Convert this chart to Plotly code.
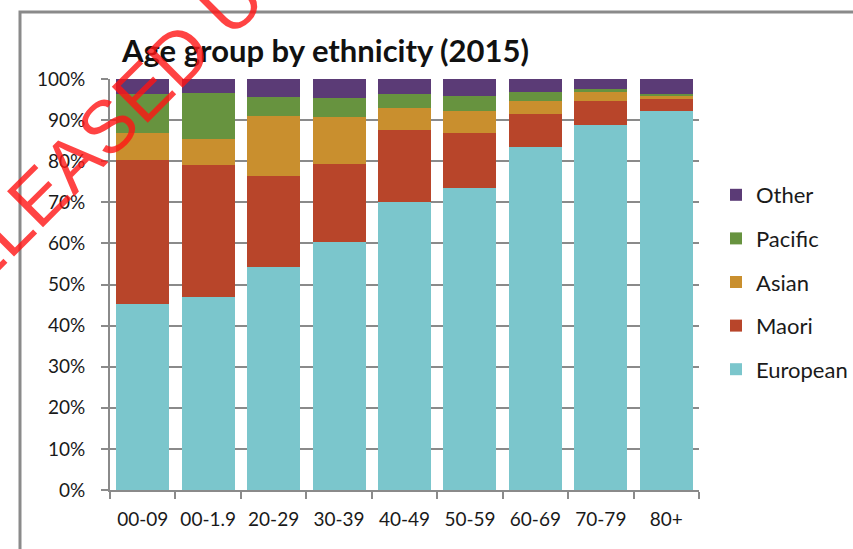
import plotly.graph_objects as go

categories = ["00-09", "00-1.9", "20-29", "30-39", "40-49", "50-59", "60-69", "70-79", "80+"]
european = [45.3, 47.0, 54.3, 60.4, 70.1, 73.6, 83.4, 88.9, 92.3]
maori = [35.0, 32.1, 22.1, 18.9, 17.5, 13.2, 8.0, 5.7, 2.8]
asian = [6.5, 6.3, 14.6, 11.4, 5.4, 5.5, 3.2, 2.2, 1.0]
pacific = [9.6, 11.3, 4.7, 4.8, 3.4, 3.6, 2.2, 0.7, 0.2]
other = [3.6, 3.3, 4.3, 4.5, 3.6, 4.1, 3.2, 2.5, 3.7]
y_ticks = list(range(0, 101, 10))
y_tick_labels = [f"{v}%" for v in y_ticks]

series = [
    ("European", european, "#7BC6CC"),
    ("Maori", maori, "#B8452A"),
    ("Asian", asian, "#C98F2E"),
    ("Pacific", pacific, "#67933F"),
    ("Other", other, "#5B3B76"),
]

W, H = 853, 549
L, R, T, B = 110, 154, 79, 59
pw, ph = W - L - R, H - T - B


def px(x):
    return (x - L) / pw


def py(y):
    return (H - B - y) / ph


fig = go.Figure()
for i, (name, vals, col) in enumerate(series):
    fig.add_trace(go.Bar(
        x=categories, y=vals, name=name, legendgroup=name,
        legendrank=len(series) - i,
        marker=dict(color=col, line=dict(width=0)),
    ))

grey = "#8a8a8a"
txt = "#1a1a1a"
fig.update_layout(
    width=W, height=H,
    margin=dict(l=L, r=R, t=T, b=B, autoexpand=False),
    barmode="stack", bargap=0.19,
    paper_bgcolor="white", plot_bgcolor="white",
    font=dict(family="Lato", size=19, color=txt),
    title=dict(text="<b>Age group by ethnicity (2015)</b>", x=122 / W, xanchor="left",
               y=1 - 51 / H, yanchor="middle", automargin=False,
               font=dict(family="Lato", size=31, color="#111")),
    xaxis=dict(type="category", showline=True, linecolor=grey, linewidth=2, ticks="outside",
               ticklen=7, tickwidth=2, tickcolor=grey, tickson="boundaries", showgrid=False,
               tickangle=0, automargin=False,
               ticklabelstandoff=11, tickfont=dict(size=19, color=txt)),
    yaxis=dict(range=[0, 100], tickvals=y_ticks, ticktext=y_tick_labels, showline=True,
               linecolor=grey, linewidth=2, ticks="outside", ticklen=7, tickwidth=2,
               tickcolor=grey, showgrid=True, gridcolor=grey, gridwidth=2, automargin=False,
               zeroline=False, ticklabelstandoff=12, tickfont=dict(size=19, color=txt)),
    legend=dict(x=px(716), y=py(282), xanchor="left", yanchor="middle",
                traceorder="grouped", tracegroupgap=12,
                font=dict(family="Lato", size=22, color=txt), bgcolor="rgba(0,0,0,0)"),
    shapes=[dict(type="rect", xref="paper", yref="paper",
                 x0=px(20), x1=px(900), y0=py(12), y1=py(600),
                 line=dict(color=grey, width=3), fillcolor="rgba(0,0,0,0)", layer="below")],
    annotations=[dict(text="RELEASED UNDER", xref="paper", yref="paper",
                      x=px(159), y=py(76), xanchor="center", yanchor="middle",
                      showarrow=False, textangle=-45,
                      font=dict(family="Liberation Sans", size=74, color="rgba(255,20,20,0.8)"))],
)

fig.write_html("out.html")
